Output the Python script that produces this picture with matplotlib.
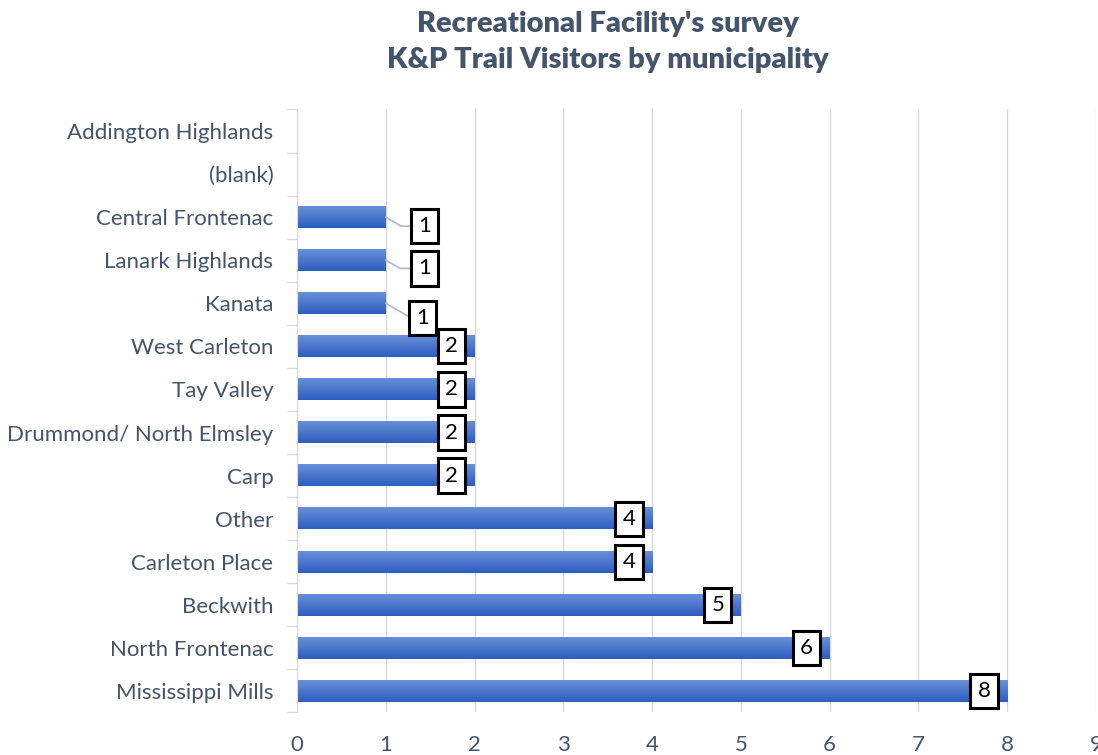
import numpy as np
import matplotlib
matplotlib.use("Agg")
import matplotlib.pyplot as plt

plt.rcParams['font.family'] = ['Lato', 'DejaVu Sans']

# donnees (de haut en bas)
municipalites = ["Addington Highlands", "(blank)", "Central Frontenac", "Lanark Highlands",
                 "Kanata", "West Carleton", "Tay Valley", "Drummond/ North Elmsley", "Carp",
                 "Other", "Carleton Place", "Beckwith", "North Frontenac", "Mississippi Mills"]
visiteurs = [0, 0, 1, 1, 1, 2, 2, 2, 2, 4, 4, 5, 6, 8]

couleur_texte = "#44546A"
couleur_grille = "#D9D9D9"

fig = plt.figure(figsize=(10.98, 7.55), dpi=100)
ax = fig.add_axes([0.2705, 0.0563, 0.7276, 0.7987])

y = np.arange(len(municipalites))
hauteur = 0.5

# barres avec un degrade vertical
gradient = np.linspace(0, 1, 64).reshape(-1, 1)
cmap = matplotlib.colors.LinearSegmentedColormap.from_list("bleu", ["#6890D8", "#2D5DBF"])
barres = ax.barh(y, visiteurs, height=hauteur, color="#3A6BC8", zorder=2)
for b in barres:
    if b.get_width() <= 0:
        continue
    x0, y0 = b.get_x(), b.get_y()
    ax.imshow(gradient, cmap=cmap, aspect="auto", zorder=2,
              extent=(x0, x0 + b.get_width(), y0 + b.get_height(), y0))
    b.set_facecolor("none")

ax.set_xlim(0, 9)
ax.set_ylim(len(municipalites) - 0.5, -0.5)

# etiquettes de valeurs
decalages_un = {2: 0.21, 3: 0.19, 4: 0.35}
for i, v in enumerate(visiteurs):
    if v == 0:
        continue
    boite = dict(boxstyle="square,pad=0.32", fc="white", ec="black", lw=2.2)
    if v == 1:
        dx = 1.44 if i != 4 else 1.41
        ax.annotate(str(v), xy=(v, i), xytext=(dx, i + decalages_un[i]),
                    ha="center", va="center", fontsize=16, color="black", bbox=boite,
                    arrowprops=dict(arrowstyle="-", color="#ADB9CA", lw=1.2,
                                    connectionstyle="angle,angleA=0,angleB=-30,rad=0",
                                    shrinkA=0, shrinkB=0),
                    zorder=4)
    else:
        ax.text(v - 0.26, i, str(v), ha="center", va="center", fontsize=16,
                color="black", bbox=boite, zorder=4)

ax.set_yticks(y)
ax.set_yticklabels(municipalites)
ax.set_yticks(np.arange(-0.5, len(municipalites), 1), minor=True)
ax.tick_params(axis="y", which="major", length=0, pad=17, labelsize=16, labelcolor=couleur_texte)
ax.tick_params(axis="y", which="minor", length=7, color=couleur_grille, width=1)
ax.set_xticks(range(10))
ax.tick_params(axis="x", length=0, pad=16, labelsize=16, labelcolor=couleur_texte)

ax.grid(axis="x", color=couleur_grille, lw=1, zorder=0)
ax.set_axisbelow(True)
for s in ["top", "right", "bottom"]:
    ax.spines[s].set_visible(False)
ax.spines["left"].set_color(couleur_grille)

fig.text(0.554, 0.986, "Recreational Facility's survey\nK&P Trail Visitors by municipality",
         ha="center", va="top", fontsize=21, fontweight="heavy", color=couleur_texte,
         linespacing=1.5)

fig.savefig("out.png", dpi=100)
